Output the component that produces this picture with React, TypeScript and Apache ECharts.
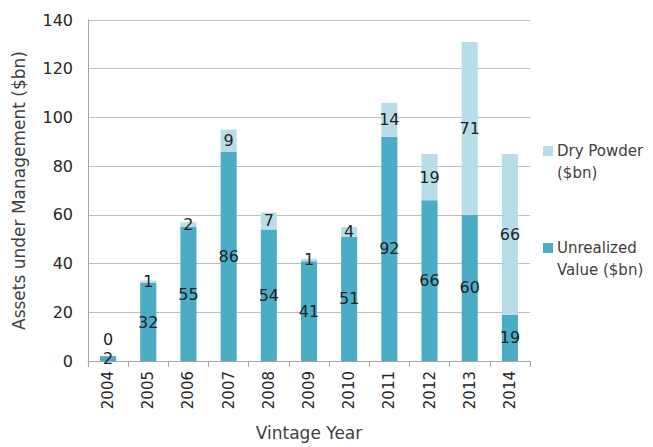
import React, { useEffect, useRef } from "react";
import * as echarts from "echarts";

const years = ["2004", "2005", "2006", "2007", "2008", "2009", "2010", "2011", "2012", "2013", "2014"];
const unrealizedValue = [2, 32, 55, 86, 54, 41, 51, 92, 66, 60, 19];
const dryPowder = [0, 1, 2, 9, 7, 1, 4, 14, 19, 71, 66];

const FONT = "DejaVu Sans";
const TEXT = "#404040";
const UNREALIZED = "#4bacc6";
const DRY = "#b7dee8";

export default function App() {
  const ref = useRef<HTMLDivElement>(null);

  useEffect(() => {
    if (!ref.current) return;
    const chart = echarts.init(ref.current, undefined, { renderer: "svg" });
    const labelBase = {
      show: true,
      position: "inside" as const,
      color: "#1f1f1f",
      fontFamily: FONT,
      fontSize: 16,
    };
    chart.setOption({
      animation: false,
      textStyle: { fontFamily: FONT },
      grid: { left: 88, right: 123, top: 20, bottom: 86 },
      xAxis: {
        type: "category",
        data: years,
        name: "Vintage Year",
        nameLocation: "middle",
        nameGap: 63,
        nameTextStyle: { color: TEXT, fontSize: 17, fontFamily: FONT },
        axisLine: { lineStyle: { color: "#a6a6a6" } },
        axisTick: { show: true, length: 6, lineStyle: { color: "#a6a6a6" } },
        axisLabel: { rotate: 90, color: "#262626", fontSize: 15, margin: 10, fontFamily: FONT },
      },
      yAxis: {
        type: "value",
        min: 0,
        max: 140,
        interval: 20,
        name: "Assets under Management ($bn)",
        nameLocation: "middle",
        nameGap: 61,
        nameTextStyle: { color: TEXT, fontSize: 17, fontFamily: FONT },
        axisLine: { show: true, lineStyle: { color: "#a6a6a6" } },
        axisTick: { show: false },
        splitLine: { lineStyle: { color: "#bdbdbd" } },
        axisLabel: { color: "#262626", fontSize: 16, margin: 15, fontFamily: FONT },
      },
      series: [
        {
          name: "Unrealized Value ($bn)",
          type: "bar",
          stack: "aum",
          barWidth: "40%",
          itemStyle: { color: UNREALIZED },
          label: labelBase,
          data: unrealizedValue,
        },
        {
          name: "Dry Powder ($bn)",
          type: "bar",
          stack: "aum",
          barWidth: "40%",
          itemStyle: { color: DRY },
          label: labelBase,
          data: dryPowder.map((v) =>
            v === 0 ? { value: v, label: { offset: [0, -17] } } : v
          ),
        },
      ],
      graphic: [
        { type: "rect", left: 543, top: 146, shape: { width: 10, height: 10 }, style: { fill: DRY } },
        {
          type: "text",
          left: 557,
          top: 140,
          style: { text: "Dry Powder\n($bn)", fill: TEXT, font: `15px '${FONT}'`, lineHeight: 22 },
        },
        { type: "rect", left: 543, top: 243, shape: { width: 10, height: 10 }, style: { fill: UNREALIZED } },
        {
          type: "text",
          left: 557,
          top: 237,
          style: { text: "Unrealized\nValue ($bn)", fill: TEXT, font: `15px '${FONT}'`, lineHeight: 22 },
        },
      ],
    });
    return () => chart.dispose();
  }, []);

  return (
    <div
      ref={ref}
      style={{ position: "absolute", left: 0, top: 0, width: 653, height: 447 }}
    />
  );
}
